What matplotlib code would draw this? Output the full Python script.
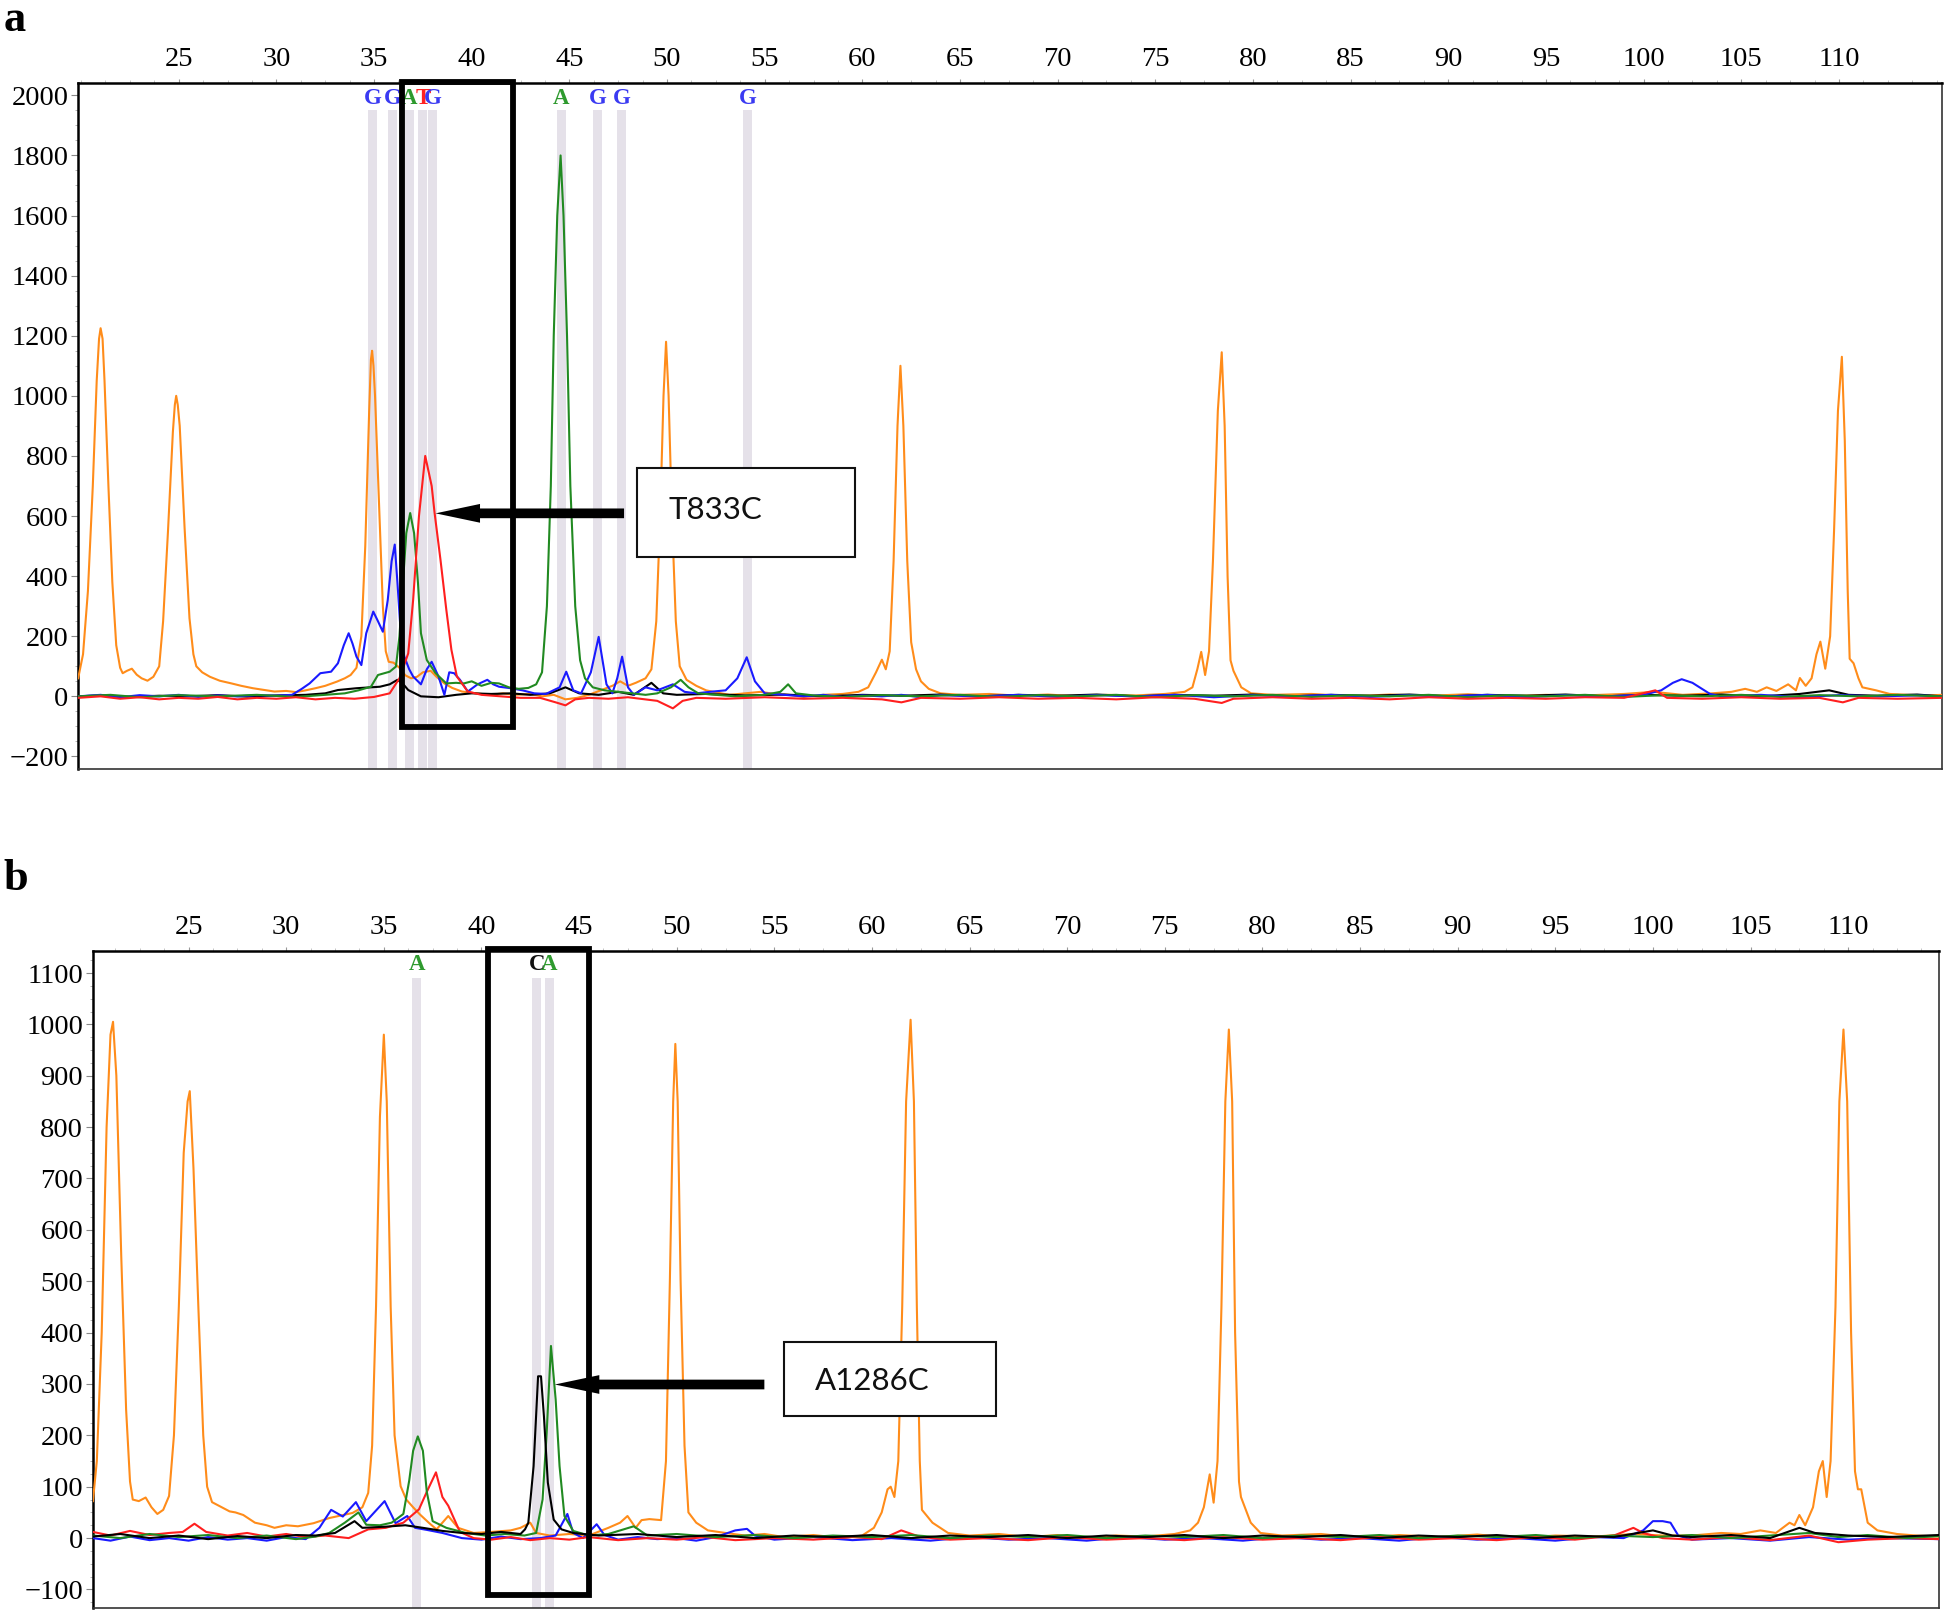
import matplotlib.pyplot as plt
from matplotlib.patches import Rectangle
from matplotlib.ticker import AutoMinorLocator

plt.rcParams['font.family'] = ['Liberation Serif', 'DejaVu Serif']

# ---------- panel a : trace points (size in bp, signal) ----------
a_orange = [(19.85, 60), (20.1, 140), (20.35, 350), (20.6, 700), (20.8, 1050), (20.92, 1190), (21.0, 1225),
            (21.1, 1190), (21.2, 1050), (21.4, 700), (21.6, 380), (21.8, 170), (22.0, 95), (22.13, 77), (22.35, 85),
            (22.6, 92), (22.85, 72), (23.1, 60), (23.4, 52), (23.7, 65), (24.0, 100), (24.2, 250), (24.45, 550),
            (24.7, 880), (24.8, 970), (24.87, 1000), (24.95, 970), (25.05, 900), (25.3, 560), (25.55, 260),
            (25.75, 140), (25.9, 100), (26.2, 80), (26.6, 65), (27.1, 52), (27.7, 43), (28.2, 35), (28.8, 27),
            (29.3, 22), (29.9, 16), (30.5, 18), (31.0, 14), (31.5, 20), (32.0, 27), (32.5, 35), (33.1, 49),
            (33.5, 60), (33.8, 71), (34.1, 95), (34.35, 200), (34.55, 500), (34.75, 950), (34.84, 1120),
            (34.9, 1150), (34.97, 1100), (35.05, 1000), (35.25, 650), (35.45, 300), (35.6, 150), (35.75, 115),
            (36.0, 112), (36.3, 95), (36.6, 70), (36.9, 60), (37.2, 65), (37.5, 80), (37.9, 85), (38.2, 65),
            (38.6, 43), (39.0, 28), (39.5, 16), (40.0, 12), (40.5, 8), (41.0, 5), (41.6, 10), (42.2, 5), (43.0, 8),
            (43.6, 0), (44.2, 5), (44.8, -10), (45.4, -5), (46.0, 5), (46.6, 20), (47.2, 35), (47.6, 50), (48.0, 35),
            (48.4, 45), (48.9, 60), (49.2, 90), (49.45, 250), (49.65, 600), (49.82, 1000), (49.95, 1180),
            (50.08, 1000), (50.25, 600), (50.45, 250), (50.65, 100), (51.0, 55), (51.5, 35), (52.0, 20), (52.6, 12),
            (53.2, 5), (54.0, 10), (54.8, 15), (55.5, 8), (56.2, 5), (57.0, -2), (58.0, 5), (59.0, 8), (59.8, 15),
            (60.3, 30), (60.7, 80), (61.0, 122), (61.2, 90), (61.4, 150), (61.6, 450), (61.8, 900), (61.95, 1100),
            (62.1, 900), (62.3, 450), (62.5, 180), (62.75, 90), (63.0, 50), (63.4, 25), (64.0, 10), (65.0, 5),
            (66.5, 8), (68.0, 2), (69.5, 6), (71.0, 0), (72.5, 5), (74.0, 3), (75.5, 8), (76.5, 15), (76.9, 30),
            (77.15, 90), (77.35, 148), (77.55, 71), (77.75, 150), (77.95, 450), (78.2, 950), (78.4, 1145),
            (78.55, 900), (78.7, 400), (78.85, 120), (79.0, 85), (79.4, 30), (79.9, 10), (81.0, 5), (83.0, 8),
            (85.0, 0), (87.0, 6), (89.0, 2), (91.0, 7), (93.0, 0), (95.0, 5), (97.0, 3), (99.0, 8), (100.5, 15),
            (102.0, 5), (103.5, 10), (104.5, 15), (105.2, 25), (105.8, 15), (106.3, 30), (106.8, 18), (107.4, 40),
            (107.8, 20), (108.0, 61), (108.3, 35), (108.6, 60), (108.85, 140), (109.05, 182), (109.3, 92),
            (109.55, 200), (109.75, 550), (109.95, 950), (110.15, 1130), (110.3, 850), (110.45, 350), (110.55, 125),
            (110.75, 110), (111.0, 60), (111.2, 30), (111.9, 20), (112.6, 8), (113.5, 5), (114.5, 3), (115.3, 5)]

a_blue = [(19.85, 0), (21, 5), (22, -3), (23, 4), (24, 0), (25, 5), (26, -2), (27, 3), (28, 0), (29, 4), (30, 2),
          (30.8, 5), (31.3, 25), (31.7, 43), (32.25, 77), (32.8, 82), (33.15, 110), (33.45, 170), (33.7, 210),
          (33.9, 175), (34.1, 132), (34.35, 104), (34.6, 210), (34.96, 282), (35.2, 250), (35.45, 215), (35.7, 320),
          (35.9, 450), (36.06, 505), (36.2, 376), (36.4, 177), (36.55, 132), (36.8, 90), (37.0, 66), (37.4, 40),
          (37.7, 90), (37.95, 115), (38.3, 66), (38.6, 5), (38.85, 80), (39.1, 77), (39.4, 55), (39.8, 16),
          (40.3, 40), (40.8, 55), (41.1, 40), (41.4, 32), (42.0, 27), (42.6, 20), (43.2, 10), (43.8, 8), (44.5, 30),
          (44.84, 82), (45.2, 20), (45.6, 10), (46.1, 80), (46.5, 198), (46.9, 40), (47.2, 10), (47.45, 60),
          (47.7, 132), (48.0, 30), (48.3, 5), (48.9, 30), (49.5, 20), (50.3, 40), (50.9, 15), (51.5, 10),
          (52.2, 15), (53.0, 20), (53.6, 60), (54.08, 130), (54.5, 50), (55.0, 10), (56.0, 5), (57, 0), (58, 5),
          (59, -2), (60, 3), (61, 0), (62, 5), (63, -3), (64, 4), (66, 0), (68, 5), (70, -2), (72, 4), (74, 0),
          (76, 5), (78, -3), (80, 4), (82, 0), (84, 5), (86, -2), (88, 4), (90, 0), (92, 5), (94, -3), (96, 4),
          (98, 0), (100.0, 5), (100.9, 20), (101.5, 45), (101.95, 57), (102.5, 45), (103.4, 8), (104, 0),
          (106, 5), (108, -3), (110, 4), (112, 0), (114, 3), (115.3, 0)]

a_green = [(19.85, 0), (21.5, 5), (23, -3), (25, 4), (27, 0), (29, 5), (31, -2), (32.5, 5), (33.5, 10), (34.2, 20),
           (34.84, 32), (35.2, 71), (35.8, 82), (36.12, 99), (36.3, 200), (36.45, 350), (36.65, 543), (36.85, 610),
           (37.05, 543), (37.25, 376), (37.4, 210), (37.7, 121), (38.15, 77), (38.7, 43), (39.2, 45), (39.6, 43),
           (40.0, 50), (40.5, 35), (41.0, 45), (41.4, 43), (41.9, 30), (42.4, 25), (42.9, 28), (43.3, 40),
           (43.6, 80), (43.85, 300), (44.05, 700), (44.2, 1200), (44.38, 1600), (44.55, 1800), (44.7, 1600),
           (44.88, 1200), (45.05, 700), (45.3, 300), (45.55, 120), (45.8, 60), (46.2, 30), (46.8, 20), (47.5, 15),
           (48.2, 10), (48.9, 5), (49.5, 10), (50.2, 30), (50.7, 55), (51.1, 30), (51.6, 10), (52.5, 5), (53.5, 0),
           (55.0, 5), (55.8, 15), (56.2, 40), (56.6, 10), (57.5, 3), (59, -2), (61, 4), (63, 0), (65, 5), (67, -2),
           (69, 4), (71, 0), (73, 5), (75, -3), (77, 4), (79, 0), (81, 5), (83, -2), (85, 4), (87, 0), (89, 5),
           (91, -3), (93, 4), (95, 0), (97, 5), (99, -2), (101, 4), (103, 0), (105, 5), (107, -2), (109, 4),
           (111, 0), (113, 5), (115.3, 0)]

a_red = [(19.85, -5), (21, 0), (22, -8), (23, -3), (24, -10), (25, -5), (26, -8), (27, -2), (28, -10), (29, -5),
         (30, -8), (31, -3), (32, -10), (33, -5), (34, -8), (35, -2), (35.8, 10), (36.3, 60), (36.75, 143),
         (37.0, 320), (37.3, 600), (37.62, 800), (37.95, 700), (38.1, 610), (38.4, 455), (38.7, 288), (38.96, 155),
         (39.24, 66), (39.8, 16), (40.5, 5), (41.5, 0), (42.5, -5), (43.5, -5), (44.3, -20), (44.8, -30),
         (45.3, -10), (46, -5), (47, -8), (48, -3), (49.5, -15), (50.3, -40), (50.8, -15), (51.5, -5), (53, -8),
         (55, -3), (57, -8), (59, -5), (61, -10), (62, -20), (63, -5), (65, -8), (67, -3), (69, -8), (71, -5),
         (73, -10), (75, -3), (77, -8), (78.4, -22), (79, -8), (81, -3), (83, -8), (85, -5), (87, -10), (89, -3),
         (91, -8), (93, -5), (95, -8), (97, -3), (99, -5), (100.6, 20), (101.2, -5), (103, -8), (105, -3),
         (107, -8), (109, -5), (110.2, -20), (111, -5), (113, -8), (115.3, -5)]

a_black = [(19.85, 0), (21, 3), (22.5, -2), (24, 2), (25.5, 0), (27, 4), (28.5, -1), (30, 3), (31.5, 5), (32.5, 10),
           (33.15, 21), (34.1, 27), (35.3, 32), (35.8, 40), (36.2, 55), (36.5, 40), (36.75, 21), (37.4, 0),
           (38.3, -3), (39.2, 5), (40, 10), (41, 8), (42, 10), (43, 5), (44, 10), (44.8, 30), (45.5, 10),
           (46.5, 5), (47.5, 15), (48.3, 5), (49.2, 45), (49.8, 10), (50.5, 5), (52, 8), (54, 3), (56, 6), (58, 0),
           (60, 5), (62, 2), (64, 6), (66, 0), (68, 5), (70, 2), (72, 6), (74, 0), (76, 5), (78, 2), (80, 6),
           (82, 0), (84, 5), (86, 2), (88, 6), (90, 0), (92, 5), (94, 2), (96, 6), (98, 0), (100, 5), (102, 2),
           (104, 6), (106, 0), (108, 8), (109.5, 20), (110.5, 5), (112, 2), (114, 6), (115.3, 0)]

a_calls = ['G', 'G', 'A', 'T', 'G', 'A', 'G', 'G', 'G']
a_call_pos = [34.94, 35.95, 36.8, 37.5, 38.0, 44.58, 46.45, 47.68, 54.12]

# ---------- panel b ----------
b_orange = [(20.1, 72), (20.3, 150), (20.55, 400), (20.8, 800), (21.0, 980), (21.13, 1005), (21.3, 900),
            (21.55, 550), (21.8, 250), (22.0, 110), (22.14, 75), (22.45, 72), (22.8, 79), (23.1, 60), (23.4, 47),
            (23.7, 55), (24.0, 82), (24.25, 200), (24.5, 450), (24.75, 750), (24.95, 850), (25.06, 870),
            (25.25, 720), (25.5, 450), (25.75, 200), (25.95, 100), (26.2, 70), (26.7, 60), (27.1, 52), (27.4, 50),
            (27.8, 45), (28.4, 30), (29.0, 25), (29.4, 20), (30.0, 25), (30.6, 23), (31.4, 29), (32.2, 39),
            (33.4, 49), (33.9, 60), (34.2, 88), (34.4, 180), (34.6, 450), (34.8, 820), (35.0, 980), (35.15, 850),
            (35.35, 450), (35.55, 200), (35.86, 101), (36.15, 75), (36.5, 60), (36.85, 46), (37.3, 30), (37.7, 17),
            (38.0, 30), (38.3, 43), (38.8, 20), (39.6, 10), (40.5, 12), (41.5, 15), (42.0, 20), (42.5, 30),
            (42.8, 10), (43.5, 5), (44.5, 8), (45.5, 5), (46.5, 20), (47.1, 30), (47.48, 43), (47.9, 20), (48.2, 35),
            (48.6, 37), (49.2, 35), (49.45, 150), (49.65, 500), (49.82, 850), (49.93, 962), (50.05, 850),
            (50.2, 500), (50.4, 180), (50.6, 50), (51.0, 30), (51.6, 15), (52.5, 10), (53.5, 5), (54.5, 8),
            (55.5, 2), (57, 6), (58.5, 0), (59.5, 5), (60.1, 20), (60.5, 50), (60.8, 95), (60.96, 100),
            (61.15, 80), (61.35, 150), (61.55, 450), (61.75, 850), (61.98, 1009), (62.15, 850), (62.3, 450),
            (62.45, 150), (62.56, 55), (63.1, 30), (63.9, 10), (65, 5), (66.5, 8), (68, 2), (69.5, 6), (71, 0),
            (72.5, 5), (74, 3), (75.5, 8), (76.3, 15), (76.7, 30), (77.0, 60), (77.3, 124), (77.5, 69), (77.7, 150),
            (77.9, 450), (78.1, 850), (78.28, 990), (78.45, 850), (78.6, 400), (78.8, 110), (78.9, 80), (79.4, 30),
            (79.9, 10), (81, 5), (83, 8), (85, 0), (87, 6), (89, 2), (91, 7), (93, 0), (95, 5), (97, 3), (99, 8),
            (100.5, 5), (102, 5), (103.5, 10), (104.5, 8), (105.5, 15), (106.3, 10), (107.0, 30), (107.25, 25),
            (107.5, 45), (107.8, 25), (108.2, 60), (108.5, 130), (108.7, 150), (108.9, 80), (109.1, 150),
            (109.35, 450), (109.55, 850), (109.76, 990), (109.95, 850), (110.15, 400), (110.35, 130), (110.5, 95),
            (110.67, 95), (110.85, 60), (111.0, 30), (111.5, 15), (112.5, 8), (113.5, 5), (114.65, 3)]

b_blue = [(20.1, 0), (21, -5), (22, 3), (23, -4), (24, 0), (25, -5), (26, 2), (27, -3), (28, 0), (29, -5), (30, 2),
          (31, -2), (31.7, 20), (32.3, 55), (32.9, 42), (33.57, 70), (34.1, 33), (35.04, 72), (35.6, 29),
          (36.2, 43), (36.6, 20), (37.2, 16), (38, 10), (39, 0), (40, -3), (41, 3), (42, -2), (43, 0), (43.8, 5),
          (44.4, 47), (44.7, 10), (45.2, 0), (45.9, 27), (46.3, 6), (47, -3), (48, 2), (49, -2), (50, 0), (51, -5),
          (52, 2), (53, 15), (53.6, 18), (54, 5), (55, -3), (57, 2), (59, -4), (61, 0), (63, -5), (65, 2), (67, -3),
          (69, 0), (71, -5), (73, 2), (75, -3), (77, 0), (79, -5), (81, 2), (83, -3), (85, 0), (87, -5), (89, 2),
          (91, -3), (93, 0), (95, -5), (97, 2), (98.5, 0), (99.5, 15), (100.0, 33), (100.5, 33), (100.9, 30),
          (101.3, 5), (102, -3), (104, 0), (106, -5), (108, 2), (110, -3), (112, 0), (114.65, -2)]

b_green = [(20.1, 5), (21.5, 0), (23, 8), (24.5, 2), (26, 6), (27.5, 0), (29, 5), (30.5, -2), (31.5, 3), (32.2, 10),
           (33.0, 30), (33.7, 50), (34.1, 26), (34.8, 25), (35.4, 30), (36.0, 47), (36.3, 112), (36.5, 170),
           (36.74, 198), (37.0, 170), (37.2, 90), (37.5, 33), (38.2, 20), (39.2, 10), (40.2, 5), (41.2, 8),
           (42.2, 5), (42.8, 10), (43.13, 75), (43.34, 205), (43.56, 374), (43.8, 270), (44.0, 140), (44.25, 43),
           (44.7, 14), (45.5, 5), (46.5, 8), (47.8, 23), (48.5, 5), (50, 8), (52, 2), (54, 6), (56, 0), (58, 5),
           (60, 2), (62, 6), (64, 0), (66, 5), (68, 2), (70, 6), (72, 0), (74, 5), (76, 2), (78, 6), (80, 0),
           (82, 5), (84, 2), (86, 6), (88, 0), (90, 5), (92, 2), (94, 6), (96, 0), (98, 5), (100, 2), (102, 6),
           (104, 0), (106, 5), (108, 10), (109.5, 2), (111, 6), (113, 0), (114.65, 4)]

b_red = [(20.1, 12), (21, 5), (22, 14), (23, 6), (24, 10), (24.7, 12), (25.3, 28), (25.9, 12), (27, 5), (28, 10),
         (29, 3), (30, 8), (31, 2), (32, 5), (33.2, 0), (34.2, 17), (35.1, 20), (36.0, 30), (36.8, 56), (37.2, 90),
         (37.67, 128), (38.0, 80), (38.3, 63), (38.9, 12), (39.6, 0), (40.5, -3), (41.5, 2), (42.5, -4), (43.5, 0),
         (44.5, -3), (45.5, 2), (47, -4), (48.5, 0), (50, -3), (51.5, 2), (53, -4), (55, 0), (57, -3), (59, 2),
         (60.5, -2), (61.5, 15), (62.5, 2), (64, -3), (66, 0), (68, -4), (70, 2), (72, -3), (74, 0), (76, -4),
         (78, 2), (80, -3), (82, 0), (84, -4), (86, 2), (88, -3), (90, 0), (92, -4), (94, 2), (96, -3), (98, 5),
         (99.0, 20), (99.5, 10), (100.5, 0), (102, -3), (104, 2), (106, -4), (108, 5), (109.5, -8), (111, -3),
         (113, 0), (114.65, -2)]

b_black = [(20.1, 3), (21.5, 8), (23, 0), (24.5, 5), (26, -2), (27.5, 4), (29, 0), (30.5, 6), (31.5, 5), (32.5, 10),
           (33.5, 33), (33.9, 20), (35, 22), (36.1, 25), (37, 20), (38, 14), (39, 10), (40, 8), (41, 12), (42, 8),
           (42.23, 17), (42.4, 30), (42.67, 140), (42.9, 315), (43.05, 315), (43.2, 237), (43.4, 108), (43.7, 36),
           (44.1, 17), (44.7, 10), (46, 5), (48, 8), (50, 2), (52, 6), (54, 0), (56, 5), (58, 2), (60, 6), (62, 0),
           (64, 5), (66, 2), (68, 6), (70, 0), (72, 5), (74, 2), (76, 6), (78, 0), (80, 5), (82, 2), (84, 6),
           (86, 0), (88, 5), (90, 2), (92, 6), (94, 0), (96, 5), (98, 2), (100, 15), (101, 5), (102, 2), (104, 6),
           (106, 0), (107.5, 20), (108.3, 10), (110, 5), (112, 2), (114.65, 6)]

b_calls = ['A', 'C', 'A']
b_call_pos = [36.68, 42.84, 43.48]

trace_colors = {'orange': '#ff8c1a', 'black': '#000000', 'blue': '#1a1aff',
                'green': '#218a21', 'red': '#ff1f1f'}
call_colors = {'G': '#3a3af2', 'A': '#2e9a2e', 'T': '#ff2222', 'C': '#111111'}
band_color = '#e5e1e9'


def draw_panel(ax, traces, calls, call_pos, call_y, band_top, xlim, ylim, yticks,
               box, tip, tail, tbox, label, label_xy):
    ax.set_xlim(xlim)
    ax.set_ylim(ylim)
    frac = (band_top - ylim[0]) / (ylim[1] - ylim[0])
    for c, x in zip(calls, call_pos):
        ax.axvspan(x - 0.23, x + 0.23, ymin=0, ymax=frac, color=band_color, lw=0, zorder=1)
        ax.text(x, call_y, c, color=call_colors[c], ha='center', va='center',
                fontsize=16.5, fontweight='bold', zorder=4)
    for name, pts in traces:
        ax.plot([p[0] for p in pts], [p[1] for p in pts], color=trace_colors[name], lw=1.5, zorder=3)

    # highlight box around the mutation
    ax.add_patch(Rectangle((box[0], box[2]), box[1] - box[0], box[3] - box[2], fill=False,
                           ec='black', lw=4.2, clip_on=False, zorder=6))
    ax.annotate('', xy=tip, xytext=tail,
                arrowprops=dict(arrowstyle='simple,head_length=3.2,head_width=1.35,tail_width=0.7',
                                mutation_scale=10, fc='black', ec='none', lw=0,
                                shrinkA=0, shrinkB=0), zorder=7)
    ax.add_patch(Rectangle((tbox[0], tbox[2]), tbox[1] - tbox[0], tbox[3] - tbox[2],
                           fc='white', ec='#111111', lw=1.5, zorder=8))
    ax.text(label_xy[0], label_xy[1], label, ha='left', va='center', fontsize=22.5,
            family='Lato', zorder=9, color='#111111')

    ax.xaxis.tick_top()
    ax.set_xticks(range(25, 115, 5))
    ax.xaxis.set_minor_locator(AutoMinorLocator(4))
    ax.set_yticks(yticks)
    ax.yaxis.set_minor_locator(AutoMinorLocator(4))
    ax.tick_params(axis='x', which='major', length=3, color='#999999', labelsize=20.5, pad=5)
    ax.tick_params(axis='x', which='minor', length=2, color='#bbbbbb')
    ax.tick_params(axis='y', which='major', length=5, color='#888888', labelsize=20.5, pad=2)
    ax.tick_params(axis='y', which='minor', length=2, color='#aaaaaa')
    for side in ['left', 'top']:
        ax.spines[side].set_linewidth(1.8)
        ax.spines[side].set_color('black')
    for side in ['right', 'bottom']:
        ax.spines[side].set_linewidth(1.2)
        ax.spines[side].set_color('#333333')


fig = plt.figure(figsize=(19.44, 16.12), dpi=100)
ax_a = fig.add_axes([0.0402, 0.5231, 0.9587, 0.4254])
ax_b = fig.add_axes([0.0478, 0.0025, 0.9496, 0.4076])

traces_a = [('orange', a_orange), ('black', a_black), ('blue', a_blue), ('green', a_green), ('red', a_red)]
traces_b = [('orange', b_orange), ('blue', b_blue), ('red', b_red), ('green', b_green), ('black', b_black)]

draw_panel(ax_a, traces_a, a_calls, a_call_pos, 1990, 1950, (19.85, 115.27), (-241, 2041),
           range(-200, 2001, 200), (36.45, 42.13, -102, 2043), (38.15, 609), (47.8, 609),
           (48.46, 59.64, 465, 759), 'T833C', (50.08, 620))
draw_panel(ax_b, traces_b, b_calls, b_call_pos, 1116, 1090, (20.1, 114.65), (-136, 1143),
           range(-100, 1101, 100), (40.33, 45.5, -111, 1146), (43.76, 299), (54.49, 299),
           (55.51, 66.33, 238, 382), 'A1286C', (57.08, 305))

fig.text(0.002, 0.9808, 'a', fontsize=32, fontweight='bold', ha='left', va='baseline')
fig.text(0.002, 0.4479, 'b', fontsize=32, fontweight='bold', ha='left', va='baseline')

plt.savefig('out.png', dpi=100)
